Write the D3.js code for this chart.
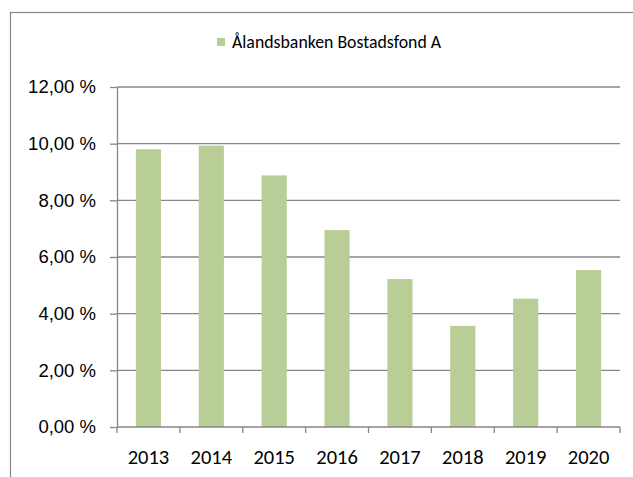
<!DOCTYPE html>
<html lang="sv">
  <head>
    <meta charset="utf-8">
    <script src="https://d3js.org/d3.v7.min.js"></script>
    <title>Ålandsbanken Bostadsfond A</title>
    <style>
      body { margin: 0; background: #fff; }
      svg { display: block; font-family: Carlito, Lato, "Open Sans", sans-serif; }
      .grid line { stroke: #868686; stroke-width: 1.3; }
      .axis path, .axis line { stroke: #868686; stroke-width: 1.3; }
      .axis text { fill: #000; }
    </style>
  </head>
  <body>
    <div id="chart"></div>
    <script>
      const years = ['2013', '2014', '2015', '2016', '2017', '2018', '2019', '2020'];
      const returns = [9.80, 9.93, 8.88, 6.95, 5.22, 3.57, 4.53, 5.54];
      const yTicks = [0, 2, 4, 6, 8, 10, 12];
      const seriesName = 'Ålandsbanken Bostadsfond A';

      const width = 633, height = 477;
      const plot = {left: 117, right: 620, top: 87, bottom: 427};

      const svg = d3.select('#chart')
        .append('svg')
        .attr('width', width)
        .attr('height', height);

      // chart area frame (cut off at right and bottom)
      svg.append('rect')
        .attr('x', 10.5).attr('y', 12.5)
        .attr('width', 700).attr('height', 600)
        .attr('fill', '#fff')
        .attr('stroke', '#888').attr('stroke-width', 1.2);

      const x = d3.scaleBand()
        .domain(years)
        .range([plot.left, plot.right])
        .paddingInner(0.6).paddingOuter(0.3);
      const xTicks = d3.scaleBand().domain(years).range([plot.left, plot.right]);

      const y = d3.scaleLinear()
        .domain([0, 12])
        .range([plot.bottom, plot.top]);

      const fmt = (v) => v.toFixed(2).replace('.', ',') + ' %';

      // gridlines
      svg.append('g').attr('class', 'grid')
        .selectAll('line')
        .data(yTicks.filter(d => d > 0))
        .join('line')
          .attr('x1', plot.left).attr('x2', plot.right)
          .attr('y1', d => y(d)).attr('y2', d => y(d));

      // bars
      svg.append('g')
        .selectAll('rect')
        .data(returns)
        .join('rect')
          .attr('x', (d, i) => x(years[i]))
          .attr('width', x.bandwidth())
          .attr('y', d => y(d))
          .attr('height', d => y(0) - y(d))
          .attr('fill', '#b9cd96');

      // y axis
      const yAxis = d3.axisLeft(y)
        .tickValues(yTicks)
        .tickFormat(fmt)
        .tickSize(7)
        .tickPadding(14)
        .tickSizeOuter(0);
      svg.append('g')
        .attr('class', 'axis')
        .attr('transform', `translate(${plot.left},0)`)
        .call(yAxis)
        .call(g => g.selectAll('text').attr('font-size', 18.5));

      // x axis: ticks on category boundaries
      const xAxisG = svg.append('g')
        .attr('class', 'axis')
        .attr('transform', `translate(0,${plot.bottom})`);
      xAxisG.append('line')
        .attr('x1', plot.left).attr('x2', plot.right);
      xAxisG.selectAll('.bt')
        .data(years.concat(['end']))
        .join('line')
          .attr('class', 'bt')
          .attr('x1', (d, i) => i < years.length ? xTicks(d) : plot.right)
          .attr('x2', (d, i) => i < years.length ? xTicks(d) : plot.right)
          .attr('y1', 0).attr('y2', 6);
      xAxisG.selectAll('text')
        .data(years)
        .join('text')
          .attr('x', d => xTicks(d) + xTicks.bandwidth() / 2)
          .attr('y', 37)
          .attr('text-anchor', 'middle')
          .attr('font-size', 20.5)
          .text(d => d);

      // legend
      const legend = svg.append('g').attr('transform', 'translate(217,38)');
      legend.append('rect')
        .attr('width', 8).attr('height', 8)
        .attr('fill', '#b9cd96');
      legend.append('text')
        .attr('x', 15).attr('y', 9.5)
        .attr('font-size', 17.8)
        .attr('fill', '#000')
        .text(seriesName);
    </script>
  </body>
</html>
